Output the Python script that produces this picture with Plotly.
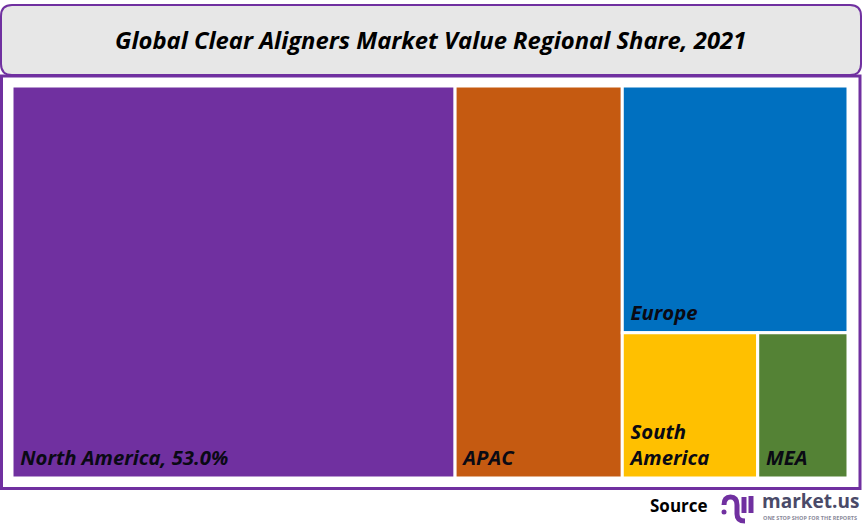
import plotly.graph_objects as go

W = 862
H = 525

regions = ["North America", "APAC", "Europe", "South America", "MEA"]
shares = [53.0, 20.0, 17.0, 6.0, 4.0]
box_text = ["North America, 53.0%", "APAC", "Europe", "South<br>America", "MEA"]
box_colors = ["#7030A0", "#C55A11", "#0070C0", "#FFC000", "#548235"]

PURPLE = "#7030A0"
FONT = "Open Sans"


def px(x):
    return x / W


def py(y):
    return 1 - y / H


def rounded(x0, y0, x1, y1, r):
    # rounded box in picture pixels, converted to paper coords
    pts = [
        f"M{px(x0 + r)},{py(y0)}", f"L{px(x1 - r)},{py(y0)}",
        f"Q{px(x1)},{py(y0)} {px(x1)},{py(y0 + r)}", f"L{px(x1)},{py(y1 - r)}",
        f"Q{px(x1)},{py(y1)} {px(x1 - r)},{py(y1)}", f"L{px(x0 + r)},{py(y1)}",
        f"Q{px(x0)},{py(y1)} {px(x0)},{py(y1 - r)}", f"L{px(x0)},{py(y0 + r)}",
        f"Q{px(x0)},{py(y0)} {px(x0 + r)},{py(y0)}", "Z",
    ]
    return "".join(pts)


def inset(label):
    # nudge the label off the box corner like the original
    return "<br>".join("\u00a0" + part for part in label.split("<br>"))


fig = go.Figure()

fig.add_trace(go.Treemap(
    labels=regions,
    parents=[""] * len(regions),
    values=shares,
    text=[inset(t) for t in box_text],
    textinfo="text",
    hoverinfo="label+value",
    textposition="bottom left",
    textfont=dict(family=FONT, size=20.3, color="#0a0a14", weight="bold", style="italic"),
    marker=dict(colors=box_colors, line=dict(color="white", width=3), pad=dict(t=0, l=0, r=0, b=0)),
    tiling=dict(packing="binary", pad=0),
    pathbar=dict(visible=False),
    root=dict(color="white"),
    domain=dict(x=[px(12), px(848)], y=[py(478), py(86)]),
))

shapes = [
    # title box
    dict(type="path", path=rounded(1, 5, 861, 75, 11), xref="paper", yref="paper",
         fillcolor="#E7E7E7", line=dict(color=PURPLE, width=2), layer="below"),
    # frame round the treemap
    dict(type="rect", xref="paper", yref="paper", x0=px(1.5), x1=px(860), y0=py(76), y1=py(488.5),
         fillcolor="white", line=dict(color=PURPLE, width=3), layer="below"),
    # logo dot
    dict(type="circle", xref="paper", yref="paper", x0=px(721.5), x1=px(726.5), y0=py(509.5), y1=py(514.5),
         fillcolor=PURPLE, line=dict(width=0)),
]

# market.us logo mark
logo_paths = [
    (f"M{px(724)},{py(505)} Q{px(724)},{py(497)} {px(730.5)},{py(497)} Q{px(737)},{py(497)} {px(737)},{py(505)} L{px(737)},{py(514)} Q{px(737)},{py(521)} {px(745)},{py(521)}", 5),
    (f"M{px(744)},{py(497)} L{px(744)},{py(513)}", 5),
    (f"M{px(751)},{py(496)} L{px(751)},{py(513)}", 5),
]
for path, width in logo_paths:
    shapes.append(dict(type="path", path=path, xref="paper", yref="paper",
                       line=dict(color=PURPLE, width=width)))

annotations = [
    dict(text="Global Clear Aligners Market Value Regional Share, 2021", x=px(430), y=py(40),
         font=dict(family=FONT, size=23.8, color="black", weight="bold", style="italic")),
    dict(text="Source", x=px(679), y=py(505),
         font=dict(family=FONT, size=17, color="black", weight="bold")),
    dict(text="market.us", x=px(810), y=py(501),
         font=dict(family=FONT, size=19, color="#4A4A68", weight="bold")),
    dict(text="ONE STOP SHOP FOR THE REPORTS", x=px(810), y=py(518),
         font=dict(family=FONT, size=5.5, color="#8A8A9A", weight="bold")),
]
for a in annotations:
    a.update(xref="paper", yref="paper", showarrow=False, xanchor="center", yanchor="middle")

fig.update_layout(
    width=W,
    height=H,
    margin=dict(l=0, r=0, t=0, b=0),
    paper_bgcolor="white",
    shapes=shapes,
    annotations=annotations,
    showlegend=False,
)

# no page margin, and lift the box labels a little off the bottom edge
post = """document.body.style.margin='0';
document.querySelectorAll('g.slicetext').forEach(function(g){g.setAttribute('transform','translate(0,-4)');});"""

fig.write_html("out.html", config={"displayModeBar": False}, post_script=post)
